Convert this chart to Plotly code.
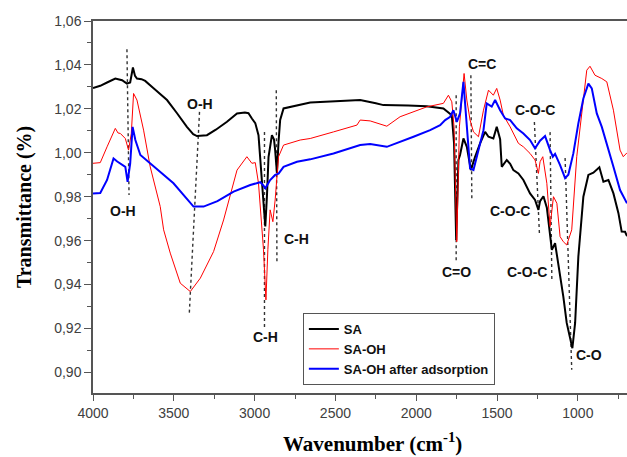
import plotly.graph_objects as go

# ---------------- data ----------------
sa_wn = [4000, 3955, 3913, 3862, 3820, 3790, 3770, 3753, 3740, 3728, 3700, 3677, 3620, 3542, 3480,
         3419, 3380, 3357, 3295, 3240, 3171, 3109, 3060, 3038, 3017, 2996, 2976, 2965, 2945, 2934,
         2924, 2914, 2893, 2880, 2873, 2862, 2852, 2842, 2821, 2738, 2656, 2500, 2347, 2250, 2203,
         2050, 1935, 1832, 1780, 1766, 1753, 1739, 1729, 1708, 1687, 1662, 1636, 1605, 1574, 1553,
         1523, 1502, 1481, 1471, 1440, 1419, 1399, 1368, 1337, 1296, 1265, 1244, 1234, 1213, 1192,
         1183, 1161, 1141, 1121, 1090, 1069, 1044, 1034, 1017, 997, 966, 935, 904, 867, 842,
         811, 780, 749, 729, 708, 696]
sa_t = [1.0295, 1.0305, 1.0320, 1.0338, 1.0330, 1.0315, 1.0320, 1.0388, 1.0350, 1.0338, 1.0335, 1.0327,
        1.0290, 1.0240, 1.0180, 1.0118, 1.0085, 1.0076, 1.0080, 1.0105, 1.0141, 1.0179, 1.0183, 1.0180,
        1.0156, 1.0135, 1.0080, 0.9980, 0.9800, 0.9664, 0.9800, 0.9980, 1.0080, 1.0060, 1.0012, 0.9908,
        1.0050, 1.0149, 1.0202, 1.0217, 1.0229, 1.0235, 1.0240, 1.0225, 1.0217, 1.0215, 1.0212, 1.0202,
        1.0171, 1.0043, 0.9603, 0.9967, 0.9990, 1.0065, 1.0027, 0.9921, 0.9982, 1.0043, 1.0095, 1.0073,
        1.0065, 1.0118, 1.0062, 0.9936, 0.9967, 0.9950, 0.9921, 0.9906, 0.9876, 0.9815, 0.9785, 0.9740,
        0.9780, 0.9802, 0.9750, 0.9694, 0.9558, 0.9588, 0.9497, 0.9345, 0.9225, 0.9134, 0.9110, 0.9225,
        0.9527, 0.9800, 0.9899, 0.9909, 0.9934, 0.9868, 0.9876, 0.9815, 0.9725, 0.9641, 0.9640, 0.9620]

saoh_wn = [4000, 3955, 3913, 3862, 3845, 3831, 3800, 3780, 3763, 3749, 3728, 3687, 3646, 3584, 3563,
           3522, 3460, 3398, 3336, 3254, 3192, 3151, 3109, 3048, 3017, 2996, 2976, 2945, 2930, 2918,
           2904, 2887, 2873, 2852, 2821, 2718, 2656, 2512, 2367, 2347, 2285, 2182, 2100, 1935, 1832,
           1801, 1780, 1766, 1749, 1733, 1718, 1704, 1687, 1667, 1646, 1615, 1584, 1553, 1523, 1502,
           1481, 1461, 1419, 1368, 1337, 1296, 1265, 1244, 1234, 1217, 1192, 1172, 1151, 1130, 1110,
           1090, 1069, 1038, 1007, 976, 945, 925, 894, 852, 821, 780, 739, 719, 696]
saoh_t = [0.9952, 0.9955, 1.0027, 1.0111, 1.0090, 1.0088, 1.0065, 1.0012, 1.0088, 1.0270, 1.0240, 1.0103,
          0.9936, 0.9755, 0.9649, 0.9543, 0.9406, 0.9368, 0.9429, 0.9550, 0.9694, 0.9808, 0.9921, 0.9982,
          0.9952, 0.9955, 0.9861, 0.9558, 0.9330, 0.9560, 0.9740, 0.9686, 0.9785, 0.9982, 1.0035, 1.0058,
          1.0065, 1.0095, 1.0126, 1.0149, 1.0145, 1.0121, 1.0164, 1.0209, 1.0225, 1.0262, 1.0232, 1.0118,
          0.9595, 1.0118, 1.0240, 1.0361, 1.0240, 1.0149, 1.0095, 1.0073, 1.0194, 1.0285, 1.0262, 1.0293,
          1.0240, 1.0171, 1.0118, 1.0043, 1.0027, 0.9997, 0.9967, 0.9906, 0.9959, 0.9982, 0.9861, 0.9664,
          0.9800, 0.9770, 0.9618, 0.9595, 0.9580, 0.9649, 0.9982, 1.0195, 1.0376, 1.0394, 1.0353, 1.0338,
          1.0323, 1.0194, 1.0012, 0.9982, 1.0000]

ads_wn = [4000, 3955, 3913, 3873, 3850, 3831, 3800, 3786, 3770, 3755, 3738, 3707, 3646, 3502, 3378,
          3316, 3230, 3130, 3027, 2965, 2945, 2934, 2904, 2873, 2852, 2821, 2738, 2656, 2512, 2347,
          2285, 2182, 2017, 1914, 1852, 1821, 1790, 1770, 1749, 1729, 1708, 1687, 1667, 1646, 1615,
          1584, 1564, 1533, 1512, 1481, 1450, 1419, 1378, 1337, 1296, 1265, 1234, 1203, 1172, 1155,
          1141, 1110, 1079, 1059, 1028, 997, 966, 935, 914, 883, 852, 821, 780, 739, 696]
ads_t = [0.9815, 0.9817, 0.9876, 0.9974, 0.9960, 0.9952, 0.9936, 0.9868, 0.9950, 1.0118, 1.0058, 0.9990,
         0.9952, 0.9861, 0.9755, 0.9755, 0.9780, 0.9823, 0.9853, 0.9866, 0.9850, 0.9838, 0.9876, 0.9899,
         0.9905, 0.9936, 0.9959, 0.9970, 0.9997, 1.0035, 1.0040, 1.0027, 1.0073, 1.0103, 1.0126, 1.0149,
         1.0164, 1.0194, 1.0141, 1.0179, 1.0323, 1.0118, 0.9929, 0.9921, 1.0012, 1.0103, 1.0225, 1.0210,
         1.0240, 1.0194, 1.0156, 1.0149, 1.0111, 1.0088, 1.0058, 1.0020, 1.0055, 1.0076, 1.0012, 0.9982,
         0.9995, 0.9944, 0.9884, 0.9900, 0.9997, 1.0134, 1.0247, 1.0315, 1.0293, 1.0179, 1.0118, 1.0035,
         0.9936, 0.9830, 0.9770]

series_names = ["SA", "SA-OH", "SA-OH after adsorption"]

# band marker lines (start / end wavenumber and transmittance)
band_wn0 = [3790, 3341, 2939, 2866, 1753, 1662, 1269, 1172, 1079]
band_t0 = [1.0471, 1.0186, 1.0095, 1.0285, 1.0262, 1.0353, 1.0140, 1.0094, 0.9976]
band_wn1 = [3777, 3404, 2939, 2862, 1753, 1656, 1238, 1161, 1038]
band_t1 = [0.9808, 0.9271, 0.9194, 0.9503, 0.9499, 0.9785, 0.9635, 0.9421, 0.9012]

# band labels
label_text = ["O-H", "O-H", "C-H", "C-H", "C=O", "C=C", "C-O-C", "C-O-C", "C-O-C", "C-O"]
label_wn = [3812, 3336, 2934, 2742, 1753, 1593, 1265, 1419, 1314, 934]
label_t = [0.9735, 1.0221, 0.9162, 0.9607, 0.9458, 1.0403, 1.0194, 0.9735, 0.9458, 0.9080]

x_ticks = [4000, 3500, 3000, 2500, 2000, 1500, 1000]
y_ticks = [0.90, 0.92, 0.94, 0.96, 0.98, 1.00, 1.02, 1.04, 1.06]
y_tick_labels = ["0,90", "0,92", "0,94", "0,96", "0,98", "1,00", "1,02", "1,04", "1,06"]

# ---------------- figure ----------------
fig = go.Figure()

for i in range(len(band_wn0)):
    fig.add_trace(go.Scatter(
        x=[band_wn0[i], band_wn1[i]], y=[band_t0[i], band_t1[i]],
        mode="lines", line=dict(color="#333333", width=1.4, dash="dot"),
        showlegend=False, hoverinfo="skip"))

fig.add_trace(go.Scatter(x=sa_wn, y=sa_t, mode="lines", name=series_names[0],
                         line=dict(color="#000000", width=2)))
fig.add_trace(go.Scatter(x=saoh_wn, y=saoh_t, mode="lines", name=series_names[1],
                         line=dict(color="#ff0000", width=1)))
fig.add_trace(go.Scatter(x=ads_wn, y=ads_t, mode="lines", name=series_names[2],
                         line=dict(color="#0000ff", width=2)))

for txt, xw, yt in zip(label_text, label_wn, label_t):
    fig.add_annotation(x=xw, y=yt, text=txt, showarrow=False,
                       xanchor="center", yanchor="middle",
                       font=dict(family="Liberation Sans, Arial", size=14, color="#111111",
                                 weight="bold"))

# axis titles
fig.add_annotation(xref="paper", yref="paper", x=0.524, y=-0.132,
                   xanchor="center", yanchor="middle",
                   text="Wavenumber (cm<sup>-1</sup>)", showarrow=False,
                   font=dict(family="Liberation Serif, Times New Roman", size=21,
                             color="#000000", weight="bold"))
fig.add_annotation(xref="paper", yref="paper", x=-0.129, y=0.5, textangle=-90,
                   xanchor="center", yanchor="middle",
                   text="Transmittance (%)", showarrow=False,
                   font=dict(family="Liberation Serif, Times New Roman", size=20,
                             color="#000000", weight="bold"))

axis_font = dict(family="Liberation Sans, Arial", size=14, color="#404040")

fig.update_layout(
    width=627, height=457,
    margin=dict(l=93, r=0, t=21, b=64),
    paper_bgcolor="white", plot_bgcolor="white",
    showlegend=True,
    legend=dict(x=0.393, y=0.215, xanchor="left", yanchor="top",
                bgcolor="white", bordercolor="#555555", borderwidth=1,
                font=dict(family="Liberation Sans, Arial", size=13, color="#111111",
                          weight="bold"),
                itemwidth=30, tracegroupgap=0),
    xaxis=dict(range=[4000, 696], showgrid=False, zeroline=False,
               showline=True, linecolor="#555555", linewidth=1.5, mirror=True,
               tickmode="array", tickvals=x_ticks, ticks="outside", ticklen=6,
               tickcolor="#555555", tickfont=axis_font,
               minor=dict(dtick=250, ticks="outside", ticklen=4, tickcolor="#555555")),
    yaxis=dict(range=[0.8906, 1.06], showgrid=False, zeroline=False,
               showline=True, linecolor="#555555", linewidth=1.5,
               tickmode="array", tickvals=y_ticks, ticktext=y_tick_labels,
               ticks="outside", ticklen=7, tickcolor="#555555", tickfont=axis_font,
               minor=dict(dtick=0.01, ticks="outside", ticklen=4, tickcolor="#555555")),
)

fig.write_html("out.html", config={"displayModeBar": False},
               post_script="document.body.style.margin='0';document.body.style.overflow='hidden';")
